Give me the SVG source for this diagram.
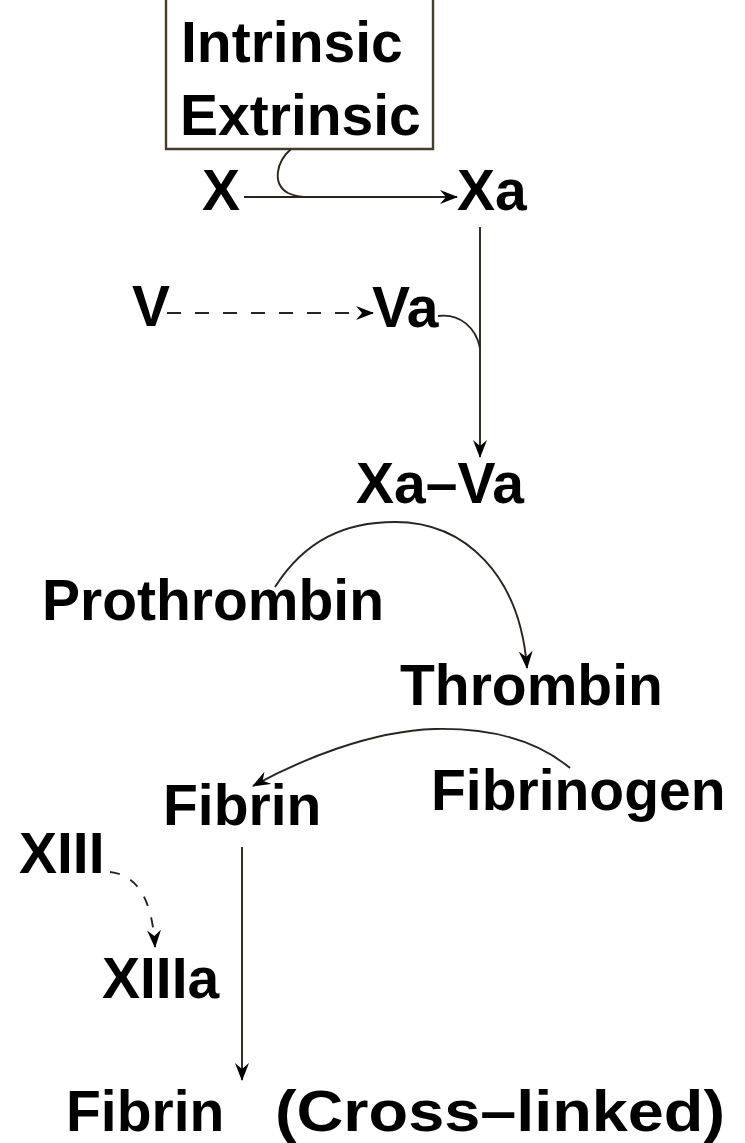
<svg xmlns="http://www.w3.org/2000/svg" width="745" height="1143" viewBox="0 0 745 1143">
  <style>
    .lbl { font-family: "Liberation Sans", Arial, sans-serif; font-weight: bold; font-size: 57px; fill: #000; }
    .ln { fill: none; stroke: #2a241c; stroke-width: 1.9; }
    .dash { stroke-dasharray: 14 14; }
    .dash2 { stroke-dasharray: 10 12; }
  </style>
  <defs>
    <marker id="dart" viewBox="0 0 18 14" refX="17" refY="7" markerWidth="18" markerHeight="14" markerUnits="userSpaceOnUse" orient="auto">
      <path d="M0,0 L18,7 L0,14 L6,7 Z" fill="#000"/>
    </marker>
  </defs>

  <rect width="745" height="1143" fill="#fff"/>

  <!-- activation box -->
  <g id="activators">
    <path d="M166,-2 V149 H433 V-2" fill="none" stroke="#4a3c2c" stroke-width="2.4"/>
    <text class="lbl" x="181" y="62">Intrinsic</text>
    <text class="lbl" x="180" y="135">Extrinsic</text>
  </g>

  <g id="n-X"><text class="lbl" x="202" y="210">X</text></g>
  <g id="n-Xa"><text class="lbl" x="457" y="210">Xa</text></g>
  <g id="n-V"><text class="lbl" x="132" y="326">V</text></g>
  <g id="n-Va"><text class="lbl" x="372" y="327">Va</text></g>
  <g id="n-XaVa"><text class="lbl" x="356" y="503">Xa–Va</text></g>
  <g id="n-prothrombin"><text class="lbl" x="42" y="620">Prothrombin</text></g>
  <g id="n-thrombin"><text class="lbl" x="400" y="705">Thrombin</text></g>
  <g id="n-fibrinogen"><text class="lbl" x="431" y="810">Fibrinogen</text></g>
  <g id="n-fibrin"><text class="lbl" x="163" y="825">Fibrin</text></g>
  <g id="n-XIII"><text class="lbl" x="19" y="873">XIII</text></g>
  <g id="n-XIIIa"><text class="lbl" x="102" y="998">XIIIa</text></g>
  <g id="n-crosslinked">
    <text class="lbl" x="66" y="1131">Fibrin</text>
    <text class="lbl" x="275" y="1131" textLength="450" lengthAdjust="spacingAndGlyphs">(Cross–linked)</text>
  </g>

  <!-- connectors -->
  <g id="connectors">
    <!-- X -> Xa, joined by the intrinsic/extrinsic input -->
    <path class="ln" d="M244,197 H457" marker-end="url(#dart)"/>
    <path class="ln" d="M291,149 C276,162 272,184 288,193 C294,196 300,197 310,197"/>
    <!-- Xa -> Xa–Va, with Va feeding in -->
    <path class="ln" d="M480,227 V457" marker-end="url(#dart)"/>
    <path class="ln" d="M438,316 C460,313 476,328 480,348"/>
    <!-- V -> Va (dashed) -->
    <path class="ln dash" d="M167,313 H373" marker-end="url(#dart)"/>
    <!-- Prothrombin -> Thrombin -->
    <path class="ln" d="M275,587 C305,540 345,522 395,522 C465,522 520,575 527,668" marker-end="url(#dart)"/>
    <!-- Fibrinogen -> Fibrin -->
    <path class="ln" d="M570,768 C530,735 480,728 435,729 C370,731 300,760 253,786" marker-end="url(#dart)"/>
    <!-- Fibrin -> cross-linked Fibrin -->
    <path class="ln" d="M242,847 V1080" marker-end="url(#dart)"/>
    <!-- XIII -> XIIIa (dashed) -->
    <path class="ln dash2" d="M110,872 C135,875 152,895 155,947" marker-end="url(#dart)"/>
  </g>
</svg>
